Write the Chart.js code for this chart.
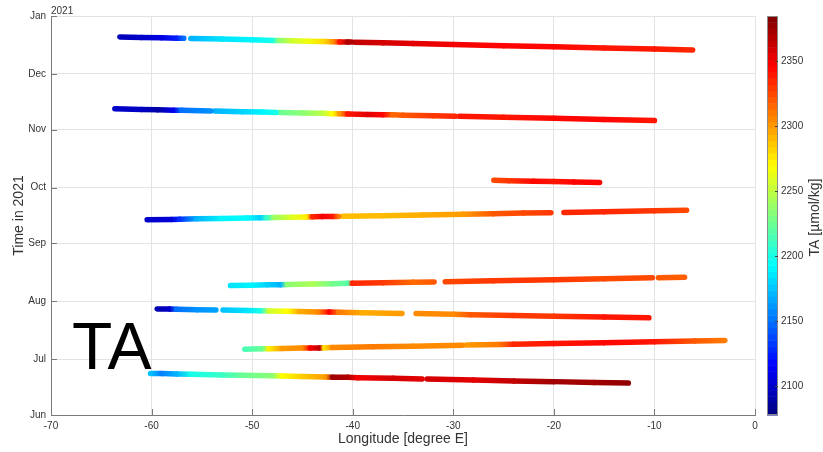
<!DOCTYPE html>
<html>
<head>
<meta charset="utf-8">
<title>TA along track</title>
<script src="https://cdn.jsdelivr.net/npm/chart.js@4.4.1/dist/chart.umd.min.js"></script>
<style>
  html, body { margin: 0; padding: 0; background: #fff; }
</style>
</head>
<body>
<canvas id="taChart" width="823" height="452"></canvas>
<script>
// --- DATA ---
// y axis: days since 1 Jun 2021
const monthLabels = ['Jun', 'Jul', 'Aug', 'Sep', 'Oct', 'Nov', 'Dec', 'Jan'];
const monthDays = [0, 30, 61, 92, 122, 153, 183, 214];
const taTicks = [2100, 2150, 2200, 2250, 2300, 2350];
const taMin = 2078;
const taMax = 2385;

// tracks: longitude, day, TA (null = gap in the track)
const decLon = [-63.15, -61, -59, -57.5, -56.8, null, -56.1, -53, -50, -48, -47.3, -46, -44.5, -43, -42, -41.3, -40.5, -40.1, null, -39.8, -37, -34, -30, -25, -20, -15, -10, -6.2];
const decDay = [202.8, 202.5, 202.3, 202.1, 202.0, null, 201.9, 201.6, 201.2, 200.9, 200.9, 200.7, 200.5, 200.3, 200.2, 200.1, 200.0, 200.0, null, 199.9, 199.6, 199.2, 198.7, 198.1, 197.5, 196.9, 196.3, 195.8];
const decTa = [2095, 2100, 2108, 2125, 2150, null, 2170, 2185, 2190, 2200, 2235, 2255, 2265, 2280, 2300, 2340, 2370, 2370, null, 2365, 2360, 2355, 2350, 2345, 2345, 2340, 2340, 2335];

const novLon = [-63.65, -61, -59.4, -57.8, -57, -54.1, null, -53.7, -51, -49, -47.6, null, -47.3, -45, -43, -42, -41.3, -40.5, -38.5, -37, -36, -35, -32, -29.8, null, -29.4, -25, -20, -15, -10];
const novDay = [164.2, 163.9, 163.7, 163.5, 163.4, 163.1, null, 163.0, 162.7, 162.5, 162.3, null, 162.3, 162.0, 161.8, 161.6, 161.6, 161.5, 161.2, 161.1, 161.0, 160.8, 160.5, 160.2, null, 160.2, 159.7, 159.1, 158.5, 157.9];
const novTa = [2100, 2098, 2090, 2110, 2150, 2160, null, 2170, 2180, 2190, 2200, null, 2225, 2235, 2250, 2270, 2300, 2340, 2355, 2345, 2315, 2320, 2330, 2335, null, 2340, 2340, 2345, 2345, 2340];

const octLon = [-25.97, -24.5, -22, -20, -18, -15.45];
const octDay = [125.9, 125.7, 125.4, 125.2, 125.0, 124.7];
const octTa = [2325, 2330, 2345, 2340, 2345, 2345];

const sepLon = [-60.44, -58, -57.2, -55.5, -53, -50.5, -49.2, -48.5, -47.8, -46, -44.6, -44, -43, -42, -41.4, null, -41.0, -37, -33, -29, -26, -23, -20.3, null, -19.0, -15, -10, -6.8];
const sepDay = [104.7, 104.9, 105.0, 105.2, 105.4, 105.6, 105.8, 105.8, 105.9, 106.1, 106.2, 106.3, 106.4, 106.5, 106.5, null, 106.6, 106.9, 107.3, 107.7, 108.0, 108.3, 108.5, null, 108.6, 109.0, 109.5, 109.8];
const sepTa = [2100, 2105, 2130, 2170, 2190, 2192, 2180, 2210, 2240, 2260, 2275, 2335, 2350, 2340, 2310, null, 2290, 2290, 2295, 2300, 2320, 2325, 2330, null, 2335, 2335, 2330, 2325];

const augLon = [-52.15, -50, -48.5, -47.2, -46.5, -44, -42, -40.5, -40.0, -37, -34, -31.9, null, -30.8, -26, -20, -15, -10.2, null, -9.6, -7.0];
const augDay = [69.4, 69.6, 69.8, 69.9, 70.0, 70.2, 70.4, 70.6, 70.6, 70.9, 71.2, 71.4, null, 71.5, 72.0, 72.6, 73.1, 73.6, null, 73.6, 73.9];
const augTa = [2185, 2190, 2180, 2170, 2235, 2245, 2228, 2220, 2335, 2330, 2315, 2320, null, 2325, 2330, 2330, 2325, 2325, null, 2320, 2318];

const julLateLon = [-59.44, -58.2, -57.5, -55.5, -53.6, null, -52.9, -50.5, -49.2, -48.3, -46.5, -45.3, -43.5, -42.3, -41.4, -39, -35.1, null, -33.7, -30, -28.3, -24, -20, -15, -10.55];
const julLateDay = [56.9, 56.8, 56.7, 56.5, 56.3, null, 56.3, 56.0, 55.9, 55.8, 55.6, 55.5, 55.3, 55.2, 55.1, 54.9, 54.5, null, 54.4, 54.0, 53.8, 53.4, 53.0, 52.5, 52.1];
const julLateTa = [2092, 2100, 2150, 2160, 2165, null, 2175, 2185, 2200, 2255, 2270, 2295, 2305, 2345, 2310, 2295, 2300, null, 2305, 2305, 2320, 2330, 2330, 2340, 2340];

const julLon = [-50.73, -49, -48.3, -47, -45, -44.2, -43.3, -42.8, -42, -38, -34, -29.1, null, -28.7, -25.5, -24, -20, -15, -10, -6, -3.0];
const julDay = [35.3, 35.5, 35.5, 35.7, 35.9, 35.9, 36.0, 36.1, 36.2, 36.6, 36.9, 37.4, null, 37.5, 37.8, 37.9, 38.3, 38.8, 39.3, 39.7, 40.0];
const julTa = [2215, 2225, 2275, 2300, 2305, 2350, 2365, 2280, 2305, 2310, 2305, 2305, null, 2300, 2310, 2335, 2340, 2345, 2340, 2320, 2310];

const junLon = [-60.1, -59, -57.5, -56, -53, -51, -48, -47, -45, -42.7, -42, -40.5, -39.5, -36, -33.1, null, -32.6, -28, -24, -20, -16, -12.6];
const junDay = [22.3, 22.2, 22.0, 21.9, 21.5, 21.3, 21.0, 20.9, 20.6, 20.4, 20.3, 20.2, 20.0, 19.7, 19.3, null, 19.3, 18.8, 18.3, 17.9, 17.4, 17.1];
const junTa = [2175, 2155, 2170, 2200, 2210, 2225, 2235, 2270, 2285, 2300, 2375, 2370, 2350, 2360, 2355, null, 2360, 2355, 2365, 2375, 2375, 2380];

const tracks = [
    [decLon, decDay, decTa],
    [novLon, novDay, novTa],
    [octLon, octDay, octTa],
    [sepLon, sepDay, sepTa],
    [augLon, augDay, augTa],
    [julLateLon, julLateDay, julLateTa],
    [julLon, julDay, julTa],
    [junLon, junDay, junTa]
];

// --- STYLE ---
const FONT = "'Liberation Sans', Arial, Helvetica, sans-serif";
const TEXT = '#333333';
const AXIS = '#7a7a7a';
const GRID = '#e3e3e3';

// MATLAB jet colormap
function jet(v) {
    const t = Math.min(1, Math.max(0, (v - taMin) / (taMax - taMin)));
    const c = k => Math.round(255 * Math.min(1, Math.max(0, 1.5 - Math.abs(4 * t - k))));
    return `rgb(${c(3)},${c(2)},${c(1)})`;
}

// split a track into continuous pieces at the nulls
function toPieces(lon, day, ta) {
    const pieces = [];
    let cur = [];
    lon.forEach((x, i) => {
        if (x === null) {
            if (cur.length) pieces.push(cur);
            cur = [];
            return;
        }
        cur.push({ x: x, y: day[i], ta: ta[i] });
    });
    if (cur.length) pieces.push(cur);
    return pieces;
}

const datasets = [];
tracks.forEach(([lon, day, ta]) => {
    toPieces(lon, day, ta).forEach(piece => {
        datasets.push({
            data: piece,
            borderWidth: 5.5,
            borderCapStyle: 'round',
            borderJoinStyle: 'round',
            pointRadius: 0,
            fill: false,
            segment: {
                borderColor: c => {
                    const a = piece[c.p0DataIndex], b = piece[c.p1DataIndex];
                    const g = c.chart.ctx.createLinearGradient(c.p0.x, c.p0.y, c.p1.x, c.p1.y);
                    g.addColorStop(0, jet(a.ta));
                    g.addColorStop(1, jet(b.ta));
                    return g;
                },
                // forces every segment to be stroked on its own
                borderDashOffset: c => c.p0DataIndex
            }
        });
    });
});

// inward tick marks, colorbar, labels
const decorPlugin = {
    id: 'decor',
    afterDatasetsDraw(chart) {
        const { ctx, chartArea: area } = chart;
        const xs = chart.scales.x, ys = chart.scales.y, cb = chart.scales.cb;
        ctx.save();

        // tick marks pointing into the axes
        ctx.strokeStyle = AXIS;
        ctx.lineWidth = 1;
        ctx.beginPath();
        xs.ticks.forEach(t => {
            const px = Math.round(xs.getPixelForValue(t.value)) + 0.5;
            ctx.moveTo(px, area.bottom);
            ctx.lineTo(px, area.bottom - 6);
        });
        ys.ticks.forEach(t => {
            const py = Math.round(ys.getPixelForValue(t.value)) + 0.5;
            ctx.moveTo(area.left, py);
            ctx.lineTo(area.left + 6, py);
        });
        ctx.stroke();

        // colorbar
        const bx = area.right + 12, bw = 11;
        const steps = 64;
        for (let i = 0; i < steps; i++) {
            const v0 = taMin + (taMax - taMin) * i / steps;
            const v1 = taMin + (taMax - taMin) * (i + 1) / steps;
            const y0 = cb.getPixelForValue(v0), y1 = cb.getPixelForValue(v1);
            ctx.fillStyle = jet((v0 + v1) / 2);
            ctx.fillRect(bx, y1, bw, y0 - y1 + 0.5);
        }
        ctx.strokeStyle = '#8a8a8a';
        ctx.strokeRect(bx + 0.5, cb.top + 0.5, bw - 1, cb.bottom - cb.top - 1);
        ctx.strokeStyle = '#444';
        ctx.beginPath();
        taTicks.forEach(v => {
            const py = Math.round(cb.getPixelForValue(v)) + 0.5;
            ctx.moveTo(bx + bw - 3, py);
            ctx.lineTo(bx + bw, py);
        });
        ctx.stroke();

        // colorbar title
        ctx.fillStyle = TEXT;
        ctx.font = `14px ${FONT}`;
        ctx.textAlign = 'center';
        ctx.textBaseline = 'middle';
        ctx.translate(815, (area.top + area.bottom) / 2 + 2);
        ctx.rotate(-Math.PI / 2);
        ctx.fillText('TA [\u00b5mol/kg]', 0, 0);
        ctx.setTransform(1, 0, 0, 1, 0, 0);

        // year above the time axis
        ctx.font = `10px ${FONT}`;
        ctx.textAlign = 'left';
        ctx.textBaseline = 'alphabetic';
        ctx.fillText('2021', area.left, area.top - 2);

        // variable name inside the plot
        ctx.fillStyle = '#000';
        ctx.font = `66px ${FONT}`;
        ctx.fillText('TA', area.left + 21, 369);

        ctx.restore();
    }
};

new Chart(document.getElementById('taChart'), {
    type: 'line',
    data: { datasets: datasets },
    options: {
        responsive: false,
        animation: false,
        layout: { padding: { top: 16, left: 0, right: 0, bottom: 0 } },
        plugins: {
            legend: { display: false },
            tooltip: { enabled: false }
        },
        scales: {
            x: {
                type: 'linear',
                min: -70,
                max: 0,
                grid: { color: GRID, drawTicks: false },
                border: { color: AXIS },
                ticks: { stepSize: 10, padding: 5, color: TEXT, font: { family: FONT, size: 10 } },
                title: {
                    display: true,
                    text: 'Longitude [degree E]',
                    color: TEXT,
                    font: { family: FONT, size: 14 },
                    padding: { top: 0, bottom: 4 }
                },
                afterFit: s => { s.height = 37; }
            },
            y: {
                type: 'linear',
                min: 0,
                max: 214,
                grid: { color: GRID, drawTicks: false },
                border: { color: AXIS },
                afterBuildTicks: s => { s.ticks = monthDays.map(v => ({ value: v })); },
                ticks: {
                    padding: 5,
                    color: TEXT,
                    font: { family: FONT, size: 10 },
                    callback: (v, i) => monthLabels[i]
                },
                title: {
                    display: true,
                    text: 'Time in 2021',
                    color: TEXT,
                    font: { family: FONT, size: 14 },
                    padding: { top: 11, bottom: 0 }
                },
                afterFit: s => { s.width = 51; }
            },
            cb: {
                type: 'linear',
                position: 'right',
                min: taMin,
                max: taMax,
                grid: { display: false, drawTicks: false },
                border: { display: false },
                afterBuildTicks: s => { s.ticks = taTicks.map(v => ({ value: v })); },
                ticks: {
                    padding: 26,
                    color: TEXT,
                    font: { family: FONT, size: 10 },
                    callback: v => String(v)
                },
                afterFit: s => {
                    s.width = 68;
                    s.paddingTop = 0;
                    s.paddingBottom = 0;
                }
            }
        }
    },
    plugins: [decorPlugin]
});
</script>
</body>
</html>
